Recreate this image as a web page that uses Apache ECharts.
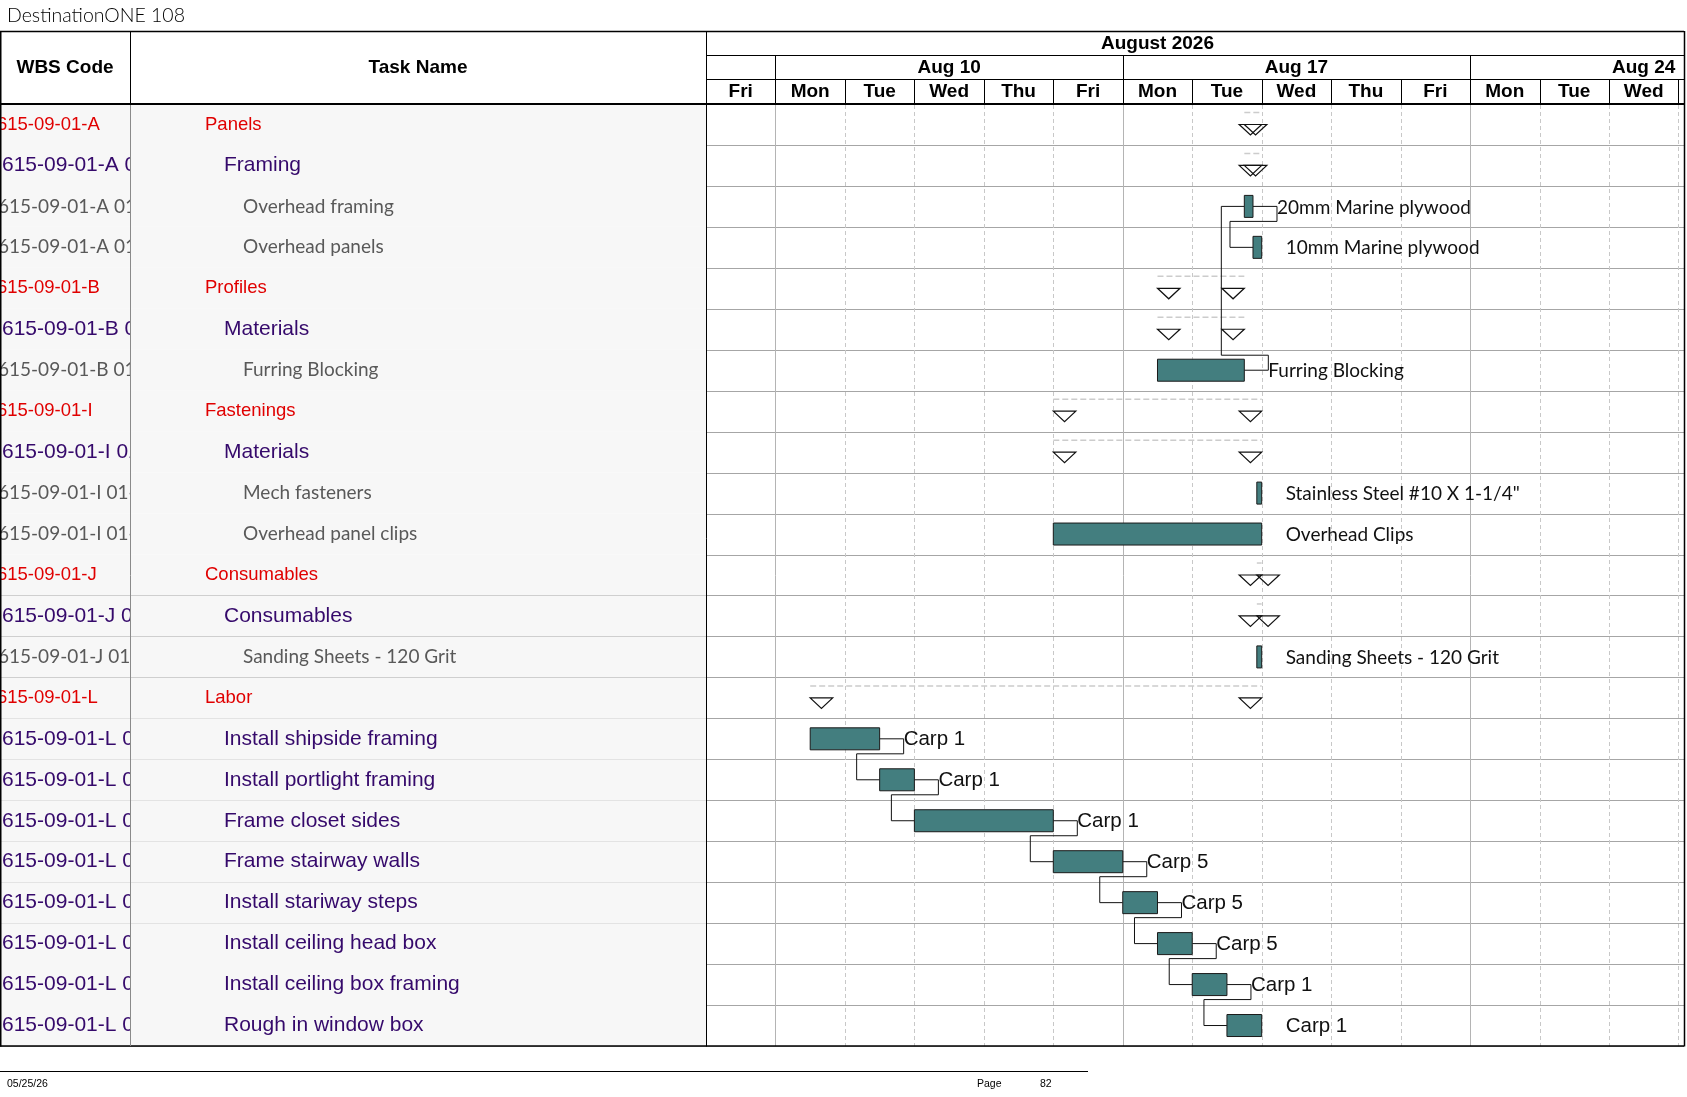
<!DOCTYPE html>
<html>
<head>
<meta charset="utf-8">
<title>DestinationONE 108</title>
<script src="https://cdn.jsdelivr.net/npm/echarts@6/dist/echarts.min.js"></script>
<style>
    html, body { margin: 0; padding: 0; background: #fff; }
    #gantt { width: 1687px; height: 1097px; }
</style>
</head>
<body>
<div id="gantt"></div>
<script>
// table rows, top to bottom
var wbsCodes = [
    '615-09-01-A', '615-09-01-A 01', '615-09-01-A 01-01', '615-09-01-A 01-02',
    '615-09-01-B', '615-09-01-B 01', '615-09-01-B 01-01',
    '615-09-01-I', '615-09-01-I 01', '615-09-01-I 01-01', '615-09-01-I 01-02',
    '615-09-01-J', '615-09-01-J 01', '615-09-01-J 01-01',
    '615-09-01-L', '615-09-01-L 01', '615-09-01-L 02', '615-09-01-L 03', '615-09-01-L 04',
    '615-09-01-L 05', '615-09-01-L 06', '615-09-01-L 07', '615-09-01-L 08'
];
var taskNames = [
    'Panels', 'Framing', 'Overhead framing', 'Overhead panels',
    'Profiles', 'Materials', 'Furring Blocking',
    'Fastenings', 'Materials', 'Mech fasteners', 'Overhead panel clips',
    'Consumables', 'Consumables', 'Sanding Sheets - 120 Grit',
    'Labor', 'Install shipside framing', 'Install portlight framing', 'Frame closet sides',
    'Frame stairway walls', 'Install stariway steps', 'Install ceiling head box',
    'Install ceiling box framing', 'Rough in window box'
];
var outlineLevels = [1, 2, 3, 3, 1, 2, 3, 1, 2, 3, 3, 1, 2, 3, 1, 2, 2, 2, 2, 2, 2, 2, 2];
var isSummary = [true, true, false, false, true, true, false, true, true, false, false,
                 true, true, false, true, false, false, false, false, false, false, false, false];
// working days counted from Fri Aug 7 2026 (weekends hidden)
var taskStarts = [7.75, 7.75, 7.75, 7.875, 6.5, 6.5, 6.5, 5, 5, 7.93, 5, 7.93, 7.93, 7.93,
                  1.5, 1.5, 2.5, 3, 5, 6, 6.5, 7, 7.5];
var taskEnds = [8, 8, 7.875, 8, 7.75, 7.75, 7.75, 8, 8, 8, 8, 8, 8, 8,
                8, 2.5, 3, 5, 6, 6.5, 7, 7.5, 8];
var barLabels = ['', '', '20mm Marine plywood', '10mm Marine plywood', '', '', 'Furring Blocking',
                 '', '', 'Stainless Steel #10 X 1-1/4"', 'Overhead Clips', '', '', 'Sanding Sheets - 120 Grit',
                 '', 'Carp 1', 'Carp 1', 'Carp 1', 'Carp 5', 'Carp 5', 'Carp 5', 'Carp 1', 'Carp 1'];
// predecessor row -> successor row
var links = [[6, 2], [2, 3], [15, 16], [16, 17], [17, 18], [18, 19], [19, 20], [20, 21], [21, 22]];

// timescale
var dayNames = ['Fri', 'Mon', 'Tue', 'Wed', 'Thu', 'Fri', 'Mon', 'Tue', 'Wed', 'Thu', 'Fri', 'Mon', 'Tue', 'Wed'];
var weekLabels = ['Aug 3', 'Aug 10', 'Aug 17', 'Aug 24'];
var weekStarts = [-4, 1, 6, 11];
var monthLabels = ['August 2026'];
var monthStarts = [-4];
var monthEnds = [17];

// layout
var GRID_LEFT = 706, GRID_RIGHT = 1684, GRID_TOP = 104, GRID_BOTTOM = 1046, CODE_W = 130;
var ARIAL = '"Liberation Sans", Arial, sans-serif';
var CALIBRI = 'Lato, "Open Sans", sans-serif';
var HEAD_FONT = 'bold 19px ' + ARIAL;

var levelStyle = {
    1: { font: '18.5px ' + ARIAL, color: '#e00000', nameX: 205, codeX: -3 },
    2: { font: '21px ' + ARIAL, color: '#35096b', nameX: 224, codeX: 2 },
    3: { font: '19px ' + CALIBRI, color: '#595959', nameX: 243, codeX: -2 }
};
var labelFont = { 2: '20.5px ' + ARIAL, 3: '19px ' + CALIBRI };

function px(v) { return Math.round(v) + 0.5; }

function renderRow(params, api) {
    var i = api.value(1);
    var yc = api.coord([0, i])[1];
    var h = api.size([0, 1])[1];
    var top = yc - h / 2;
    var st = levelStyle[outlineLevels[i]];
    return {
        type: 'group',
        children: [
            { type: 'rect', shape: { x: 0, y: top, width: GRID_LEFT, height: h }, style: { fill: '#f7f7f7' } },
            {
                type: 'group',
                clipPath: { type: 'rect', shape: { x: 0, y: top, width: CODE_W, height: h } },
                children: [{ type: 'text', style: { text: wbsCodes[i], x: st.codeX, y: yc, font: st.font, fill: st.color, textVerticalAlign: 'middle' } }]
            },
            { type: 'text', style: { text: taskNames[i], x: st.nameX, y: yc, font: st.font, fill: st.color, textVerticalAlign: 'middle' } },
            { type: 'line', shape: { x1: 0, y1: px(top + h), x2: GRID_RIGHT, y2: px(top + h) }, style: { stroke: '#a6a6a6', lineWidth: 1 } }
        ]
    };
}

function renderDay(params, api) {
    var i = api.value(0);
    var x0 = api.coord([i, 0])[0];
    var x1 = api.coord([i + 1, 0])[0];
    var weekEdge = dayNames[i + 1] === 'Mon';
    return {
        type: 'group',
        children: [
            { type: 'text', style: { text: dayNames[i], x: (x0 + x1) / 2, y: 92, font: HEAD_FONT, fill: '#000', textAlign: 'center', textVerticalAlign: 'middle' } },
            { type: 'line', shape: { x1: px(x1), y1: 79, x2: px(x1), y2: GRID_TOP }, style: { stroke: '#000', lineWidth: 1 } },
            {
                type: 'line', shape: { x1: px(x1), y1: GRID_TOP + 1, x2: px(x1), y2: GRID_BOTTOM },
                style: weekEdge ? { stroke: '#b4b4b4', lineWidth: 1 } : { stroke: '#c8c8c8', lineWidth: 1, lineDash: [4, 3] }
            }
        ]
    };
}

function clipHeader(children) {
    return {
        type: 'group',
        clipPath: { type: 'rect', shape: { x: GRID_LEFT, y: 30, width: GRID_RIGHT - GRID_LEFT, height: 75 } },
        children: children
    };
}

function renderWeek(params, api) {
    var s = api.value(0);
    var x0 = api.coord([s, 0])[0];
    var xm = api.coord([s + 2.5, 0])[0];
    return clipHeader([
        { type: 'text', style: { text: weekLabels[params.dataIndex], x: xm, y: 67.5, font: HEAD_FONT, fill: '#000', textAlign: 'center', textVerticalAlign: 'middle' } },
        { type: 'line', shape: { x1: px(x0), y1: 55, x2: px(x0), y2: 79 }, style: { stroke: '#000', lineWidth: 1 } }
    ]);
}

function renderMonth(params, api) {
    var x0 = api.coord([api.value(0), 0])[0];
    var x1 = api.coord([api.value(1), 0])[0];
    return clipHeader([
        { type: 'text', style: { text: monthLabels[params.dataIndex], x: (x0 + x1) / 2, y: 43.5, font: HEAD_FONT, fill: '#000', textAlign: 'center', textVerticalAlign: 'middle' } }
    ]);
}

var TRI_W = 22.5, TRI_H = 10.5;

function renderSummary(params, api) {
    var row = api.value(1);
    var p0 = api.coord([api.value(0), row]);
    var p1 = api.coord([api.value(2), row]);
    var h = api.size([0, 1])[1];
    var yc = p0[1], top = yc - h / 2;
    var triStyle = { fill: 'rgba(0,0,0,0)', stroke: '#111', lineWidth: 1.2 };
    return {
        type: 'group',
        children: [
            { type: 'line', shape: { x1: p0[0], y1: top + 8.5, x2: p1[0], y2: top + 8.5 }, style: { stroke: '#cccccc', lineWidth: 1.5, lineDash: [6, 3] } },
            { type: 'polygon', shape: { points: [[p0[0], yc], [p0[0] + TRI_W, yc], [p0[0] + TRI_W / 2, yc + TRI_H]] }, style: triStyle },
            { type: 'polygon', shape: { points: [[p1[0] - TRI_W, yc], [p1[0], yc], [p1[0] - TRI_W / 2, yc + TRI_H]] }, style: triStyle }
        ]
    };
}

function renderTask(params, api) {
    var row = api.value(1);
    var p0 = api.coord([api.value(0), row]);
    var p1 = api.coord([api.value(2), row]);
    return {
        type: 'group',
        children: [
            { type: 'rect', shape: { x: p0[0], y: p0[1] - 11, width: p1[0] - p0[0], height: 22 }, style: { fill: '#437e7f', stroke: '#1a1a1a', lineWidth: 1 } },
            { type: 'text', style: { text: barLabels[row], x: p1[0] + 24, y: p0[1] + 1, font: labelFont[outlineLevels[row]], fill: '#111', textVerticalAlign: 'middle' } }
        ]
    };
}

function renderLink(params, api) {
    var pe = api.coord([api.value(0), api.value(1)]);
    var ss = api.coord([api.value(2), api.value(3)]);
    var yv = ss[1] > pe[1] ? pe[1] + 15 : pe[1] - 15;
    var xa = pe[0] + 24, xb = ss[0] - 23;
    return {
        type: 'polyline',
        shape: { points: [[pe[0], pe[1]], [xa, pe[1]], [xa, yv], [xb, yv], [xb, ss[1]], [ss[0], ss[1]]] },
        style: { stroke: '#111', lineWidth: 1, fill: null }
    };
}

function hline(x1, x2, y, w, color) {
    return { type: 'line', z: 100, shape: { x1: x1, y1: y, x2: x2, y2: y }, style: { stroke: color || '#000', lineWidth: w || 1 } };
}
function vline(x, y1, y2, w, color) {
    return { type: 'line', z: 100, shape: { x1: x, y1: y1, x2: x, y2: y2 }, style: { stroke: color || '#000', lineWidth: w || 1 } };
}

var rowData = wbsCodes.map(function (c, i) { return [0, i]; });
var summaryData = [], taskData = [];
taskStarts.forEach(function (s, i) {
    (isSummary[i] ? summaryData : taskData).push([s, i, taskEnds[i]]);
});
var linkData = links.map(function (l) { return [taskEnds[l[0]], l[0], taskStarts[l[1]], l[1]]; });

var chart = echarts.init(document.getElementById('gantt'), null, { renderer: 'canvas' });
chart.setOption({
    animation: false,
    backgroundColor: '#fff',
    grid: { left: GRID_LEFT, right: 1687 - GRID_RIGHT, top: GRID_TOP, bottom: 1097 - GRID_BOTTOM, outerBoundsMode: 'none' },
    xAxis: { type: 'value', min: 0, max: 14.08, show: false },
    yAxis: { type: 'category', data: taskNames, inverse: true, show: false },
    graphic: { elements: [
        { type: 'text', z: 100, style: { text: 'DestinationONE 108', x: 7, y: 16, font: '300 19.5px ' + CALIBRI, fill: '#000', textVerticalAlign: 'middle' } },
        { type: 'text', z: 100, style: { text: 'WBS Code', x: CODE_W / 2, y: 67.5, font: HEAD_FONT, fill: '#000', textAlign: 'center', textVerticalAlign: 'middle' } },
        { type: 'text', z: 100, style: { text: 'Task Name', x: (CODE_W + GRID_LEFT) / 2, y: 67.5, font: HEAD_FONT, fill: '#000', textAlign: 'center', textVerticalAlign: 'middle' } },
        hline(0, GRID_RIGHT, 31.5, 1.5),
        hline(GRID_LEFT, GRID_RIGHT, 55.5),
        hline(GRID_LEFT, GRID_RIGHT, 79.5),
        hline(0, GRID_RIGHT, 104, 2),
        hline(0, GRID_RIGHT, 1046, 1.5),
        vline(0.75, 31, 1046.5, 1.5),
        vline(130.5, 31, 104),
        vline(130.5, 105, 1046, 1, '#8a8a8a'),
        vline(706.5, 31, 1046.5),
        vline(1684.5, 31, 1046.5, 1.5),
        hline(0, 1088, 1071.5),
        { type: 'text', z: 100, style: { text: '05/25/26', x: 7, y: 1084, font: '10.5px ' + ARIAL, fill: '#000', textVerticalAlign: 'middle' } },
        { type: 'text', z: 100, style: { text: 'Page', x: 977, y: 1084, font: '10.5px ' + ARIAL, fill: '#000', textVerticalAlign: 'middle' } },
        { type: 'text', z: 100, style: { text: '82', x: 1040, y: 1084, font: '10.5px ' + ARIAL, fill: '#000', textVerticalAlign: 'middle' } }
    ] },
    series: [
        { type: 'custom', name: 'rows', z: 1, clip: false, renderItem: renderRow, data: rowData, encode: { x: 0, y: 1 } },
        { type: 'custom', name: 'days', z: 2, clip: false, renderItem: renderDay, data: dayNames.map(function (d, i) { return [i, 0]; }), encode: { x: 0, y: 1 } },
        { type: 'custom', name: 'weeks', z: 2, clip: false, renderItem: renderWeek, data: weekStarts.map(function (s) { return [s, 0]; }), encode: { x: 0, y: 1 } },
        { type: 'custom', name: 'months', z: 2, clip: false, renderItem: renderMonth, data: monthStarts.map(function (s, i) { return [s, monthEnds[i], 0]; }), encode: { x: [0, 1], y: 2 } },
        { type: 'custom', name: 'summaries', z: 3, clip: false, renderItem: renderSummary, data: summaryData, encode: { x: [0, 2], y: 1 } },
        { type: 'custom', name: 'links', z: 4, clip: false, renderItem: renderLink, data: linkData, encode: { x: [0, 2], y: [1, 3] } },
        { type: 'custom', name: 'tasks', z: 5, clip: false, renderItem: renderTask, data: taskData, encode: { x: [0, 2], y: 1 } }
    ]
});
</script>
</body>
</html>
